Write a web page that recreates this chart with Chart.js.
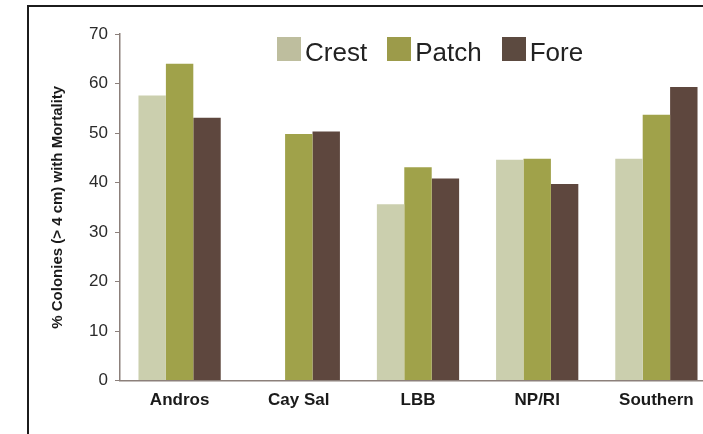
<!DOCTYPE html>
<html>
<head>
<meta charset="utf-8">
<script src="https://cdn.jsdelivr.net/npm/chart.js@4/dist/chart.umd.min.js"></script>
<style>
    html, body { margin: 0; padding: 0; background: #fff; overflow: hidden; }
    #frame { position: absolute; left: 27px; top: 5px; width: 700px; height: 440px;
             border-left: 2px solid #1c1c1c; border-top: 2px solid #1c1c1c; }
    #wrap { position: absolute; left: 0; top: 0; width: 716px; height: 434px; }
    #legend { position: absolute; left: 277px; top: 37px; white-space: nowrap;
              font: 26px Arial, "Liberation Sans", sans-serif; line-height: 26px; color: #222; }
    #legend .item { display: inline-block; margin-right: 20px; }
    #legend .box { display: inline-block; width: 24px; height: 24px; margin-right: 4px; vertical-align: baseline; }
</style>
</head>
<body>
<div id="frame"></div>
<div id="wrap"><canvas id="chart"></canvas></div>
<div id="legend"></div>
<script>
// ===== DATA =====
const sites = ["Andros", "Cay Sal", "LBB", "NP/RI", "Southern"];
const crest = [57.6, 0, 35.6, 44.6, 44.8];
const patch = [64.0, 49.8, 43.1, 44.8, 53.7];
const fore = [53.1, 50.3, 40.8, 39.7, 59.3];
const yTicks = [0, 10, 20, 30, 40, 50, 60, 70];

const axisColor = "#8c807b";

const chart = new Chart(document.getElementById("chart"), {
    type: "bar",
    data: {
        labels: sites,
        datasets: [
            { label: "Crest", data: crest, backgroundColor: "#cbcfae" },
            { label: "Patch", data: patch, backgroundColor: "#a0a24a" },
            { label: "Fore", data: fore, backgroundColor: "#5e473e" }
        ]
    },
    options: {
        responsive: true,
        maintainAspectRatio: false,
        animation: false,
        datasets: { bar: { categoryPercentage: 0.69, barPercentage: 1 } },
        layout: { padding: { left: 48, top: 34, right: 0, bottom: 13 } },
        plugins: {
            tooltip: { enabled: false },
            legend: { display: false }
        },
        scales: {
            x: {
                grid: { display: false, drawTicks: false },
                border: { color: axisColor, width: 1.5 },
                ticks: {
                    padding: 10,
                    color: "#1a1a1a",
                    font: { family: "Arial, 'Liberation Sans'", size: 17, weight: "bold" }
                }
            },
            y: {
                min: 0,
                max: 70,
                afterFit: scale => { scale.width = 72; },
                afterBuildTicks: scale => { scale.ticks = yTicks.map(v => ({ value: v })); },
                grid: { display: true, drawOnChartArea: false, tickLength: 5, color: axisColor },
                border: { color: axisColor, width: 1.5 },
                ticks: {
                    padding: 7,
                    color: "#2a2a2a",
                    font: { family: "Arial, 'Liberation Sans'", size: 17 }
                },
                title: {
                    display: true,
                    text: "% Colonies (> 4 cm) with Mortality",
                    color: "#1a1a1a",
                    padding: { top: 1, bottom: 0 },
                    font: { family: "Arial, 'Liberation Sans'", size: 15, weight: "bold" }
                }
            }
        }
    }
});

// HTML legend built from the datasets
const legend = document.getElementById("legend");
const legendBoxColors = ["#bebe9e", "#9c9b4a", "#5c4a40"];
chart.data.datasets.forEach((ds, i) => {
    const item = document.createElement("span");
    item.className = "item";
    item.innerHTML = `<span class="box" style="background:${legendBoxColors[i]}"></span>${ds.label}`;
    legend.appendChild(item);
});
</script>
</body>
</html>
